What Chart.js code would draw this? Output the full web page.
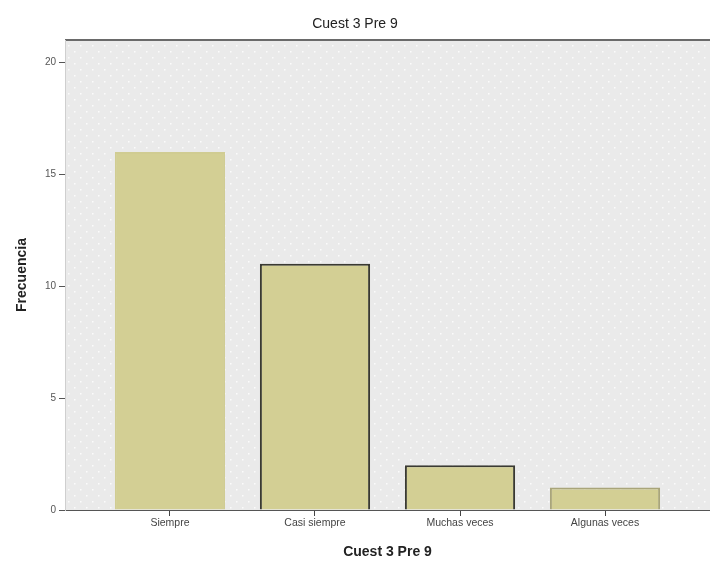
<!DOCTYPE html>
<html>
<head>
<meta charset="utf-8">
<style>
  html, body { margin: 0; background: #fff; overflow: hidden; }
  #wrap { position: relative; width: 710px; height: 561px; }
</style>
</head>
<body>
<div id="wrap"><canvas id="chart1"></canvas></div>
<script src="https://cdn.jsdelivr.net/npm/chart.js@4/dist/chart.umd.min.js"></script>
<script>
const categories = ['Siempre', 'Casi siempre', 'Muchas veces', 'Algunas veces']
const counts = [16, 11, 2, 1]
const yTicks = [0, 5, 10, 15, 20]
const chartTitle = 'Cuest 3 Pre 9'
const yTitle = 'Frecuencia'

// dotted grey fill behind the plot
function dotPattern(ctx) {
  const c = document.createElement('canvas')
  c.width = 12
  c.height = 12
  const p = c.getContext('2d')
  p.fillStyle = '#eaeaea'
  p.fillRect(0, 0, 12, 12)
  p.fillStyle = '#fbfbfb'
  p.fillRect(2, 3, 1.5, 1.5)
  p.fillRect(8, 9, 1.5, 1.5)
  return ctx.createPattern(c, 'repeat')
}

const plotBackground = {
  id: 'plotBackground',
  beforeDraw(chart) {
    const { ctx, chartArea: a } = chart
    ctx.save()
    ctx.fillStyle = dotPattern(ctx)
    ctx.fillRect(a.left, a.top, a.right - a.left, a.bottom - a.top)
    ctx.strokeStyle = '#6a6a6a'
    ctx.lineWidth = 2
    ctx.beginPath()
    ctx.moveTo(a.left, a.top)
    ctx.lineTo(a.right, a.top)
    ctx.stroke()
    ctx.restore()
  }
}

new Chart(document.getElementById('chart1'), {
  type: 'bar',
  data: {
    datasets: [{
      data: counts.map((v, i) => ({ x: i, y: v })),
      backgroundColor: '#d3cf94',
      borderColor: ['#d0cc92', '#3a3a32', '#3a3a32', '#a9a57a'],
      borderWidth: 2,
      categoryPercentage: 1,
      barPercentage: 0.76
    }]
  },
  options: {
    responsive: true,
    maintainAspectRatio: false,
    animation: false,
    layout: { padding: 0 },
    plugins: {
      legend: { display: false },
      tooltip: { enabled: false },
      title: {
        display: true,
        text: chartTitle,
        color: '#222',
        font: { family: 'Liberation Sans', size: 14, weight: 'normal' },
        padding: { top: 16, bottom: 7.2 }
      }
    },
    scales: {
      x: {
        type: 'linear',
        offset: false,
        min: -0.724,
        max: 3.724,
        afterBuildTicks: s => { s.ticks = categories.map((c, i) => ({ value: i })) },
        afterFit: s => { s.height = 51 },
        ticks: {
          callback: v => categories[v],
          color: '#444',
          font: { family: 'Liberation Sans', size: 10.5 },
          padding: 1,
          maxRotation: 0
        },
        grid: { offset: false, drawOnChartArea: false, drawTicks: true, tickLength: 6, color: '#444' },
        border: { display: true, color: '#555', width: 1 },
        title: {
          display: true,
          text: chartTitle,
          color: '#222',
          font: { family: 'Liberation Sans', size: 14, weight: 'bold' },
          padding: { top: 4, bottom: 0 }
        }
      },
      y: {
        min: 0,
        max: 21,
        afterBuildTicks: s => { s.ticks = yTicks.map(v => ({ value: v })) },
        afterFit: s => { s.width = 65 },
        ticks: {
          color: '#555',
          font: { family: 'Liberation Sans', size: 10 },
          padding: 3
        },
        grid: { drawOnChartArea: false, drawTicks: true, tickLength: 6, color: '#555' },
        border: { display: true, color: '#cfcfcf', width: 1 },
        title: {
          display: true,
          text: yTitle,
          color: '#222',
          font: { family: 'Liberation Sans', size: 14, weight: 'bold' },
          padding: { top: 14, bottom: 4 }
        }
      }
    }
  },
  plugins: [plotBackground]
})
</script>
</body>
</html>
